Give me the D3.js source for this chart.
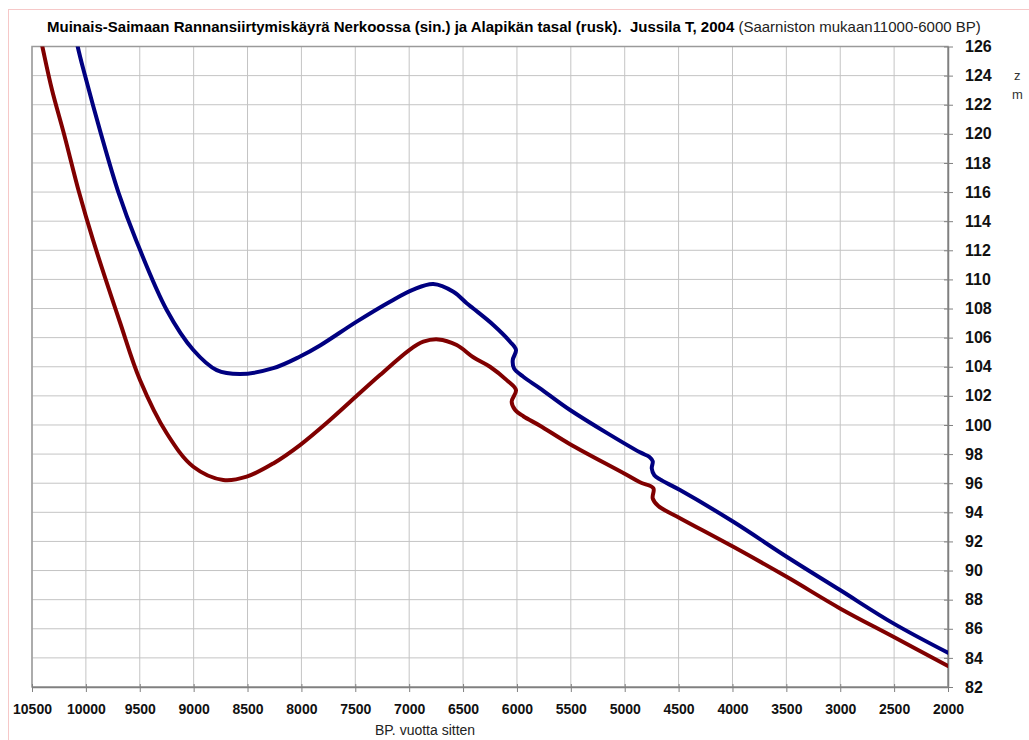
<!DOCTYPE html>
<html><head><meta charset="utf-8">
<script src="https://cdn.jsdelivr.net/npm/d3@7"></script>
<style>html,body{margin:0;padding:0;background:#fff;} svg{display:block;font-family:"Liberation Sans",Arial,sans-serif;}</style>
</head><body>
<svg id="c" width="1029" height="740"></svg>
<script>
const titleBold = "Muinais-Saimaan Rannansiirtymiskäyrä Nerkoossa (sin.) ja Alapikän tasal (rusk).\u00A0 Jussila T, 2004";
const titleNormal = " (Saarniston mukaan11000-6000 BP)";
const xLabel = "BP. vuotta sitten";
const yUnit = ["z", "m"];
const xTicks = [10500,10000,9500,9000,8500,8000,7500,7000,6500,6000,5500,5000,4500,4000,3500,3000,2500,2000];
const yTicks = [82,84,86,88,90,92,94,96,98,100,102,104,106,108,110,112,114,116,118,120,122,124,126];

// Nerkoossa (sin.) — blue
const blueYears  = [10130,10076,10008,9860,9699,9535,9250,9003,8786,8570,8261,8013,7827,7487,7178,6962,6776,6590,6466,6405,6219,6064,6009,6039,6027,5941,5786,5507,4858,4770,4740,4749,4725,4672,4487,3992,3497,3002,2507,2000];
const blueValues = [128.2,126,124,120,116,112.71,107.9,105.15,103.77,103.5,103.9,104.7,105.46,107.1,108.47,109.3,109.68,109.15,108.36,108.0,106.87,105.72,105.15,104.46,103.89,103.31,102.52,101.03,98.12,97.8,97.5,97.02,96.55,96.26,95.53,93.35,90.95,88.66,86.37,84.35];
// Alapikän tasal (rusk) — red
const redYears  = [10490,10404,10314,10203,10064,9934,9683,9498,9250,9003,8725,8508,8261,8013,7735,7496,7271,6999,6869,6730,6559,6405,6250,6095,6009,6049,6018,5941,5786,5507,5000,4858,4734,4740,4688,4487,3992,3497,3002,2507,2000];
const redValues = [129,126,123.01,119.99,116,112.71,107.04,103.09,99.43,97.13,96.22,96.45,97.36,98.62,100.34,101.94,103.43,105.15,105.72,105.88,105.49,104.65,104.0,103.08,102.4,101.6,101.05,100.6,99.95,98.68,96.65,96.06,95.65,94.96,94.43,93.6,91.63,89.57,87.4,85.45,83.45];

const svg = d3.select("#c");
const L = 32, R = 948, T = 46.5, B = 687;
const x = d3.scaleLinear().domain([10500, 2000]).range([L, R]);
const y = d3.scaleLinear().domain([82, 126]).range([B, T]);

// outer chart border
svg.append("rect").attr("x", 8.5).attr("y", 9.5).attr("width", 1040).attr("height", 760)
  .attr("fill", "none").attr("stroke", "#f6c8c8").attr("stroke-width", 1);

// grid
const g = svg.append("g");
g.selectAll("line.v").data(xTicks).join("line")
  .attr("x1", d => x(d)).attr("x2", d => x(d)).attr("y1", T).attr("y2", B)
  .attr("stroke", "#c4c4c4").attr("stroke-width", 1);
g.selectAll("line.h").data(yTicks).join("line")
  .attr("y1", d => y(d)).attr("y2", d => y(d)).attr("x1", L).attr("x2", R)
  .attr("stroke", "#c4c4c4").attr("stroke-width", 1);

// plot frame
svg.append("rect").attr("x", L).attr("y", T).attr("width", R - L).attr("height", B - T)
  .attr("fill", "none").attr("stroke", "#9a9a9a").attr("stroke-width", 1.5);

// axes
const xAxis = d3.axisBottom(x).tickValues(xTicks).tickFormat(d3.format("d")).tickSizeInner(5).tickSizeOuter(0).tickPadding(12);
const gx = svg.append("g").attr("transform", `translate(0,${B})`).call(xAxis);
gx.select(".domain").attr("stroke", "#808080").attr("stroke-width", 1.5);
gx.selectAll(".tick line").attr("stroke", "#808080").attr("y1", -3);
gx.selectAll(".tick text").attr("font-size", 14).attr("font-weight", "bold").attr("fill", "#111")
  .attr("font-family", "Liberation Sans, Arial, sans-serif");

const yAxis = d3.axisRight(y).tickValues(yTicks).tickFormat(d3.format("d")).tickSizeInner(5).tickSizeOuter(0).tickPadding(12);
const gy = svg.append("g").attr("transform", `translate(${R},0)`).call(yAxis);
gy.select(".domain").attr("stroke", "#808080").attr("stroke-width", 1.5);
gy.selectAll(".tick line").attr("stroke", "#808080").attr("x1", -4);
gy.selectAll(".tick text").attr("font-size", 16).attr("font-weight", "bold").attr("fill", "#111")
  .attr("font-family", "Liberation Sans, Arial, sans-serif");

// clip
svg.append("clipPath").attr("id", "clip").append("rect")
  .attr("x", L).attr("y", T).attr("width", R - L).attr("height", B - T);

const line = d3.line().x(d => x(d[0])).y(d => y(d[1])).curve(d3.curveCatmullRom.alpha(0.5));
const series = [
  {years: redYears, values: redValues, color: "#800000"},
  {years: blueYears, values: blueValues, color: "#000080"}
];
svg.append("g").attr("clip-path", "url(#clip)").selectAll("path").data(series).join("path")
  .attr("d", s => line(s.years.map((yr, i) => [yr, s.values[i]])))
  .attr("fill", "none").attr("stroke", s => s.color).attr("stroke-width", 4)
  .attr("stroke-linejoin", "round").attr("stroke-linecap", "round");

// title
const t = svg.append("text").attr("x", 47).attr("y", 32).attr("font-size", 15).attr("fill", "#000");
t.append("tspan").attr("font-weight", "bold").text(titleBold);
t.append("tspan").attr("font-weight", "normal").attr("fill", "#222").text(titleNormal);

// x label
svg.append("text").attr("x", 375).attr("y", 735).attr("font-size", 14).attr("fill", "#222").text(xLabel);
// unit
svg.selectAll("text.unit").data(yUnit).join("text").attr("class", "unit")
  .attr("x", (d, i) => i === 0 ? 1014 : 1012).attr("y", (d, i) => 80 + i * 19)
  .attr("font-size", 13).attr("fill", "#333").text(d => d);
</script>
</body></html>
